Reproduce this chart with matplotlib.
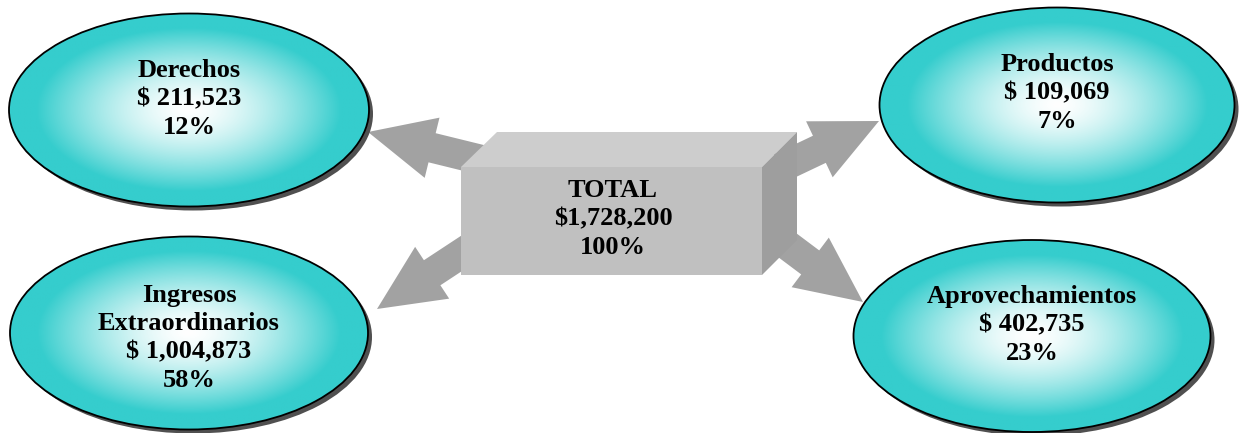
import numpy as np
import matplotlib
matplotlib.use('Agg')
import matplotlib.pyplot as plt
from matplotlib.patches import Ellipse, Polygon, FancyArrow
from matplotlib.colors import to_rgb

# Datos
conceptos = ["Derechos", "Productos", "Ingresos\nExtraordinarios", "Aprovechamientos"]
montos = [211523, 109069, 1004873, 402735]
porcentajes = [12, 7, 58, 23]
total = 1728200
total_pct = 100

# Posicion de cada elipse (centro x, centro y, ancho, alto) en pixeles
elipses = [(189, 110, 360, 193), (1057, 105, 355, 195),
           (189, 333, 358, 193), (1032, 336, 357, 192)]
# desplazamiento del texto respecto al centro
texto_dy = [-11, -12, 5, -11]
# flechas: inicio (detras de la caja) y punta
flechas = [((490, 162), (368, 132)), ((780, 168), (879, 121)),
           ((485, 238), (377, 309)), ((775, 236), (863, 302))]

TEAL = '#35CDCD'
fuente = dict(family='Liberation Serif', fontweight='bold', fontsize=19,
              color='black', ha='center', va='center', linespacing=1.3)

fig = plt.figure(figsize=(12.4, 4.33), dpi=100, facecolor='white')
ax = fig.add_axes([0, 0, 1, 1])
ax.set_xlim(0, 1240)
ax.set_ylim(433, 0)
ax.axis('off')

# Flechas
for (x0, y0), (x1, y1) in flechas:
    dx, dy = x1 - x0, y1 - y0
    ar = FancyArrow(x0, y0, dx, dy, width=30, head_width=62, head_length=66,
                    length_includes_head=True, facecolor='#A2A2A2',
                    edgecolor='none', zorder=1)
    ax.add_patch(ar)

# Caja 3D
ax.add_patch(Polygon([(461, 167), (497, 132), (797, 132), (762, 167)],
                     closed=True, facecolor='#CDCDCD', edgecolor='none', zorder=3))
ax.add_patch(Polygon([(762, 167), (797, 132), (797, 240), (762, 275)],
                     closed=True, facecolor='#9E9E9E', edgecolor='none', zorder=3))
ax.add_patch(Polygon([(461, 167), (762, 167), (762, 275), (461, 275)],
                     closed=True, facecolor='#C0C0C0', edgecolor='none', zorder=3))
ax.text(613, 219, f"TOTAL\n${total:,}\n{total_pct}%", zorder=4, **fuente)

# Elipses con degradado radial
c_borde = np.array(to_rgb(TEAL))
for i, (cx, cy, w, h) in enumerate(elipses):
    sombra = Ellipse((cx + 4, cy + 4), w, h, facecolor='#505050',
                     edgecolor='none', zorder=5)
    ax.add_patch(sombra)
    el = Ellipse((cx, cy), w, h, facecolor='none', edgecolor='black',
                 linewidth=1.3, zorder=7)
    ax.add_patch(el)
    gx = np.linspace(-1, 1, 300)
    gy = np.linspace(-1, 1, 200)
    X, Y = np.meshgrid(gx, gy)
    r = np.sqrt(X ** 2 + Y ** 2)
    t = np.clip(r / 0.85, 0, 1) ** 1.5
    img = (1 - t)[..., None] * np.ones(3) + t[..., None] * c_borde
    im = ax.imshow(img, extent=(cx - w / 2, cx + w / 2, cy + h / 2, cy - h / 2),
                   zorder=6, interpolation='bilinear', aspect='auto')
    clip = Ellipse((cx, cy), w, h, transform=ax.transData)
    im.set_clip_path(clip)
    etiqueta = f"{conceptos[i]}\n$ {montos[i]:,}\n{porcentajes[i]}%"
    ax.text(cx, cy + texto_dy[i], etiqueta, zorder=8, **fuente)

ax.set_xlim(0, 1240)
ax.set_ylim(433, 0)
fig.savefig('out.png', dpi=100, facecolor='white')
